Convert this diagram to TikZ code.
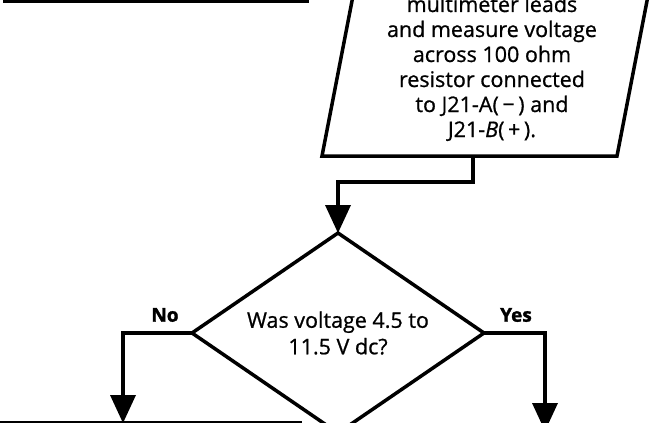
\documentclass[tikz,border=0pt]{standalone}
\usepackage{fontspec}
\setmainfont{Open Sans}[FakeBold=0.8]
\newfontfamily\lblfont{Open Sans}[FakeBold=1.5]
\usetikzlibrary{shapes.geometric,arrows.meta}
\tikzset{
  heavy/.style={line width=3.5pt, line join=miter, line cap=butt},
  conn/.style={heavy, -{Triangle[width=26pt,length=28pt,line width=0pt]}},
  ptxt/.style={font=\fontsize{21.5}{25}\selectfont, inner sep=0pt, anchor=base},
  lbl/.style={font=\fontsize{19}{22}\selectfont\lblfont\bfseries, inner sep=0pt},
  decision/.style={diamond, draw, heavy, aspect=1.46, minimum width=292pt, minimum height=200pt,
     inner sep=0pt, outer sep=0pt, align=center, font=\fontsize{21.5}{26.5}\selectfont}
}
\begin{document}
\begin{tikzpicture}[x=1pt,y=-1pt]
\useasboundingbox (0,0) rectangle (657,423);
\clip (0,0) rectangle (657,423);
% partial box top-left
\draw[line width=3pt] (3,1) coordinate (tl1) -- (309,1) coordinate (tl2);
% partial box bottom-left
\draw[line width=1.5pt] (0,422) coordinate (bl1) -- (302,422) coordinate (bl2);
% parallelogram (input/output)
\draw[heavy] (358,-30) -- (322,156) -- (617,156) -- (653,-30);
\coordinate (pb) at (473,156);
\node[ptxt] (l1) at (492,12) {multimeter leads};
\node[ptxt] (l2) at (492,37) {and measure voltage};
\node[ptxt] (l3) at (492,62) {across 100 ohm};
\node[ptxt] (l4) at (492,87) {resistor connected};
\node[ptxt] (l5) at (492,112) {to J21-A(\,−\,) and};
\node[ptxt] (l6) at (492,137) {J21-\textit{B}(\,+\,).};
% decision
\node[decision] (dec) at (338,333) {Was voltage 4.5 to\\11.5 V dc?};
\coordinate (m1) at (338,182);
\draw[conn] (pb) |- (m1) -- (dec.north);
% branches
\coordinate (noend) at (123,423);
\coordinate (yesend) at (545,431);
\draw[conn] (dec.west) -| (noend);
\draw[conn] (dec.east) -| (yesend);
\node[lbl] (no) at (165,315) {No};
\node[lbl] (yes) at (516,315) {Yes};
\end{tikzpicture}
\end{document}
